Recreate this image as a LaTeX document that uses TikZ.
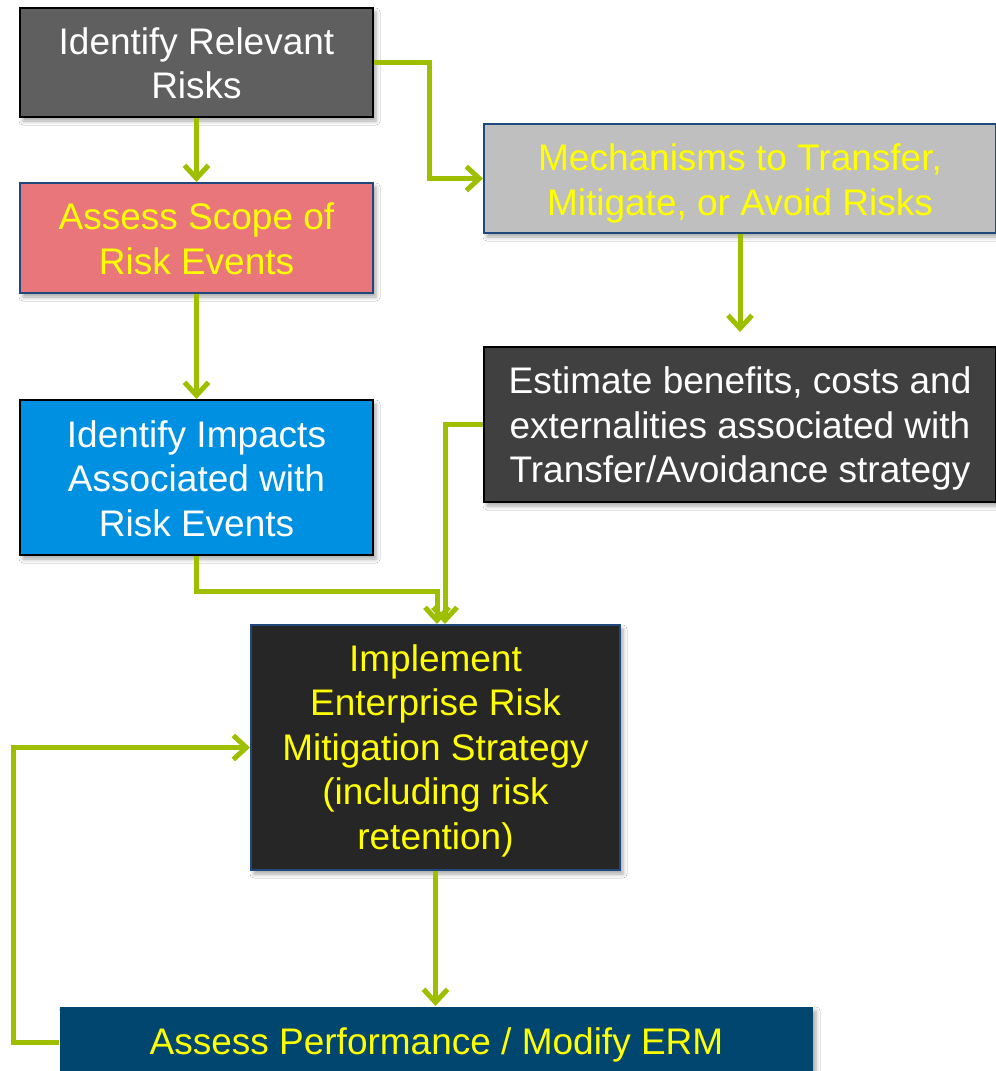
\documentclass[tikz,border=0pt]{standalone}
\usepackage{fontspec}
\setmainfont{Liberation Sans}
\usetikzlibrary{arrows.meta,shadows.blur,calc}
\definecolor{cgrayA}{HTML}{5F5F5F}
\definecolor{csalmon}{HTML}{E9767B}
\definecolor{cblue}{HTML}{0090E1}
\definecolor{cgrayB}{HTML}{BFBFBF}
\definecolor{cgrayC}{HTML}{404040}
\definecolor{cdark}{HTML}{262626}
\definecolor{cnavy}{HTML}{01466E}
\definecolor{cborder}{HTML}{1F497D}
\definecolor{lgreen}{HTML}{9EBF00}
\definecolor{cyel}{HTML}{FFFF00}
\begin{document}
\begin{tikzpicture}[x=1pt,y=-1pt,
  box/.style={rectangle, inner sep=0pt, line width=2pt,
    blur shadow={shadow xshift=3pt, shadow yshift=-4pt, shadow opacity=35, shadow blur radius=4pt}},
  txt/.style={inner sep=0pt, align=center, font=\fontsize{37}{44.5}\selectfont},
  link/.style={draw=lgreen, line width=5pt, line join=miter,
    -{Straight Barb[length=13pt,width=24pt]}}]
\useasboundingbox (0,0) rectangle (996,1071);
\fill[white] (0,0) rectangle (996,1071);

\node[box, fill=cgrayA, draw=black, minimum width=353pt, minimum height=109pt] (b1) at (196.5,62.5) {};
\node[txt, text=white] (t1) at ($(b1.center)+(0,1)$) {Identify Relevant\\Risks};
\node[box, fill=csalmon, draw=cborder, minimum width=353pt, minimum height=110pt] (b2) at (196.5,238) {};
\node[txt, text=cyel] (t2) at ($(b2.center)+(0,1)$) {Assess Scope of\\Risk Events};
\node[box, fill=cblue, draw=black, minimum width=353pt, minimum height=155pt] (b3) at (196.5,477.5) {};
\node[txt, text=white] (t3) at ($(b3.center)+(0,1)$) {Identify Impacts\\Associated with\\Risk Events};
\node[box, fill=cgrayB, draw=cborder, minimum width=512pt, minimum height=109pt] (b4) at (740,178.5) {};
\node[txt, text=cyel] (t4) at ($(b4.center)+(0,5)$) {Mechanisms to Transfer,\\Mitigate, or Avoid Risks};
\node[box, fill=cgrayC, draw=black, minimum width=512pt, minimum height=155pt] (b5) at (740,424.5) {};
\node[txt, text=white] (t5) at ($(b5.center)+(0,4)$) {Estimate benefits, costs and\\externalities associated with\\Transfer/Avoidance strategy};
\node[box, fill=cdark, draw=cborder, minimum width=369pt, minimum height=245pt] (b6) at (435.5,747.5) {};
\node[txt, text=cyel] (t6) at ($(b6.center)+(0,3)$) {Implement\\Enterprise Risk\\Mitigation Strategy\\(including risk\\retention)};
\node[box, fill=cnavy, draw=none, minimum width=753pt, minimum height=70pt] (b7) at (436.5,1042) {};
\node[txt, text=cyel] (t7) at ($(b7.center)+(0,3)$) {Assess Performance / Modify ERM};

\draw[link] (b1.south) -- (b2.north);
\draw[link] (b2.south) -- (b3.north);
\draw[link] (b1.east) -- ++(55,0) |- (b4.west);
\draw[link, shorten >=14pt] (b4.south) -- (b5.north);
\draw[link] (b5.west) -| ([xshift=9.5pt]b6.north);
\draw[link] (b3.south) -- ++(0,35) -| ([xshift=1.5pt]b6.north);
\draw[link] (b6.south) -- (b6.south |- b7.north);
\draw[link] (b7.west) -- ++(-46,0) |- (b6.west);
\end{tikzpicture}
\end{document}
